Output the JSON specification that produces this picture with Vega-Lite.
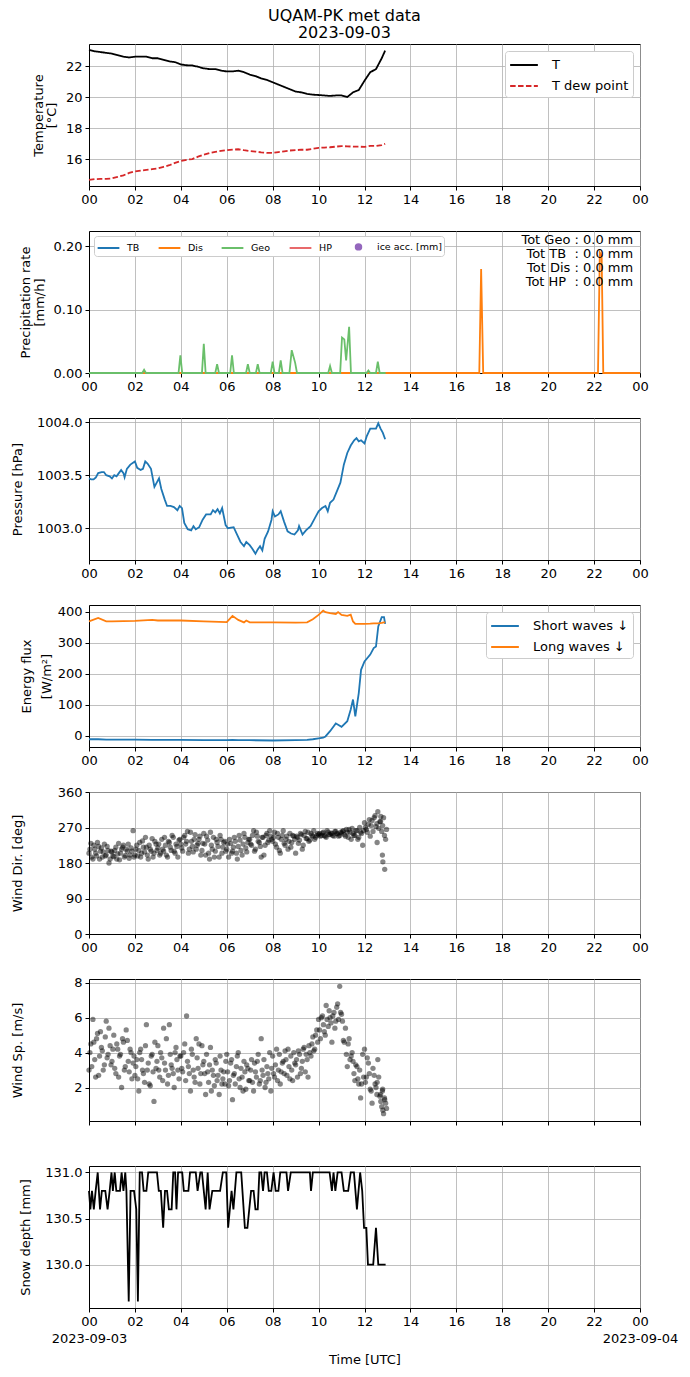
{
  "$schema": "https://vega.github.io/schema/vega-lite/v6.json",
  "padding": {"left": 10, "top": 7, "right": 5, "bottom": 5},
  "bounds": "flush",
  "spacing": 45,
  "resolve": {"scale": {"color": "independent", "strokeDash": "independent"}},
  "title": {"text": ["UQAM-PK met data", "2023-09-03"], "fontSize": 16, "fontWeight": "normal", "font": "DejaVu Sans", "anchor": "middle", "frame": "bounds", "lineHeight": 17, "offset": 3},
  "datasets": {
    "temp": [
      {"h":0,"T":23.04,"T dew point":14.65},{"h":0.25,"T":22.95,"T dew point":14.7},{"h":0.5,"T":22.9,"T dew point":14.72},{"h":0.75,"T":22.85,"T dew point":14.72},
      {"h":1,"T":22.8,"T dew point":14.75},{"h":1.25,"T":22.7,"T dew point":14.85},{"h":1.5,"T":22.6,"T dew point":14.95},{"h":1.75,"T":22.55,"T dew point":15.1},
      {"h":2,"T":22.6,"T dew point":15.2},{"h":2.25,"T":22.6,"T dew point":15.25},{"h":2.5,"T":22.6,"T dew point":15.3},{"h":2.75,"T":22.5,"T dew point":15.35},
      {"h":3,"T":22.5,"T dew point":15.4},{"h":3.25,"T":22.4,"T dew point":15.5},{"h":3.5,"T":22.3,"T dew point":15.6},{"h":3.75,"T":22.25,"T dew point":15.75},
      {"h":4,"T":22.1,"T dew point":15.87},{"h":4.25,"T":22.05,"T dew point":15.95},{"h":4.5,"T":22.04,"T dew point":16.0},{"h":4.75,"T":21.95,"T dew point":16.15},
      {"h":5,"T":21.85,"T dew point":16.28},{"h":5.25,"T":21.8,"T dew point":16.38},{"h":5.5,"T":21.8,"T dew point":16.46},{"h":5.75,"T":21.7,"T dew point":16.52},
      {"h":6,"T":21.65,"T dew point":16.57},{"h":6.25,"T":21.65,"T dew point":16.6},{"h":6.5,"T":21.7,"T dew point":16.63},{"h":6.75,"T":21.6,"T dew point":16.57},
      {"h":7,"T":21.45,"T dew point":16.52},{"h":7.25,"T":21.35,"T dew point":16.48},{"h":7.5,"T":21.2,"T dew point":16.43},{"h":7.75,"T":21.1,"T dew point":16.4},
      {"h":8,"T":20.95,"T dew point":16.39},{"h":8.25,"T":20.8,"T dew point":16.45},{"h":8.5,"T":20.65,"T dew point":16.5},{"h":8.75,"T":20.5,"T dew point":16.55},
      {"h":9,"T":20.35,"T dew point":16.57},{"h":9.25,"T":20.3,"T dew point":16.6},{"h":9.5,"T":20.2,"T dew point":16.6},{"h":9.75,"T":20.15,"T dew point":16.66},
      {"h":10,"T":20.13,"T dew point":16.72},{"h":10.25,"T":20.1,"T dew point":16.74},{"h":10.5,"T":20.07,"T dew point":16.76},{"h":10.75,"T":20.1,"T dew point":16.8},
      {"h":11,"T":20.1,"T dew point":16.83},{"h":11.25,"T":20.0,"T dew point":16.82},{"h":11.5,"T":20.3,"T dew point":16.8},{"h":11.75,"T":20.45,"T dew point":16.8},
      {"h":12,"T":21.05,"T dew point":16.78},{"h":12.25,"T":21.6,"T dew point":16.85},{"h":12.5,"T":21.8,"T dew point":16.85},{"h":12.75,"T":22.5,"T dew point":16.9},
      {"h":12.9,"T":23.0,"T dew point":16.98}
    ],
    "precip": [
      {"h":0,"k":"TB","v":0},{"h":12.92,"k":"TB","v":0},
      {"h":0,"k":"Dis","v":0},{"h":17.0,"k":"Dis","v":0},{"h":17.08,"k":"Dis","v":0.164},{"h":17.17,"k":"Dis","v":0},{"h":22.17,"k":"Dis","v":0},{"h":22.25,"k":"Dis","v":0.19},{"h":22.33,"k":"Dis","v":0.185},{"h":22.4,"k":"Dis","v":0},{"h":24,"k":"Dis","v":0},
      {"h":0,"k":"Geo","v":0},{"h":2.32,"k":"Geo","v":0},{"h":2.4,"k":"Geo","v":0.005},{"h":2.48,"k":"Geo","v":0},{"h":3.9,"k":"Geo","v":0},{"h":3.98,"k":"Geo","v":0.028},{"h":4.06,"k":"Geo","v":0},
      {"h":4.92,"k":"Geo","v":0},{"h":5.0,"k":"Geo","v":0.046},{"h":5.08,"k":"Geo","v":0},{"h":5.5,"k":"Geo","v":0},{"h":5.58,"k":"Geo","v":0.014},{"h":5.66,"k":"Geo","v":0},
      {"h":6.15,"k":"Geo","v":0},{"h":6.23,"k":"Geo","v":0.028},{"h":6.31,"k":"Geo","v":0},{"h":6.84,"k":"Geo","v":0},{"h":6.92,"k":"Geo","v":0.014},{"h":7.0,"k":"Geo","v":0},
      {"h":7.27,"k":"Geo","v":0},{"h":7.35,"k":"Geo","v":0.014},{"h":7.43,"k":"Geo","v":0},{"h":7.92,"k":"Geo","v":0},{"h":8.0,"k":"Geo","v":0.018},{"h":8.08,"k":"Geo","v":0},
      {"h":8.27,"k":"Geo","v":0},{"h":8.35,"k":"Geo","v":0.02},{"h":8.43,"k":"Geo","v":0},{"h":8.73,"k":"Geo","v":0},{"h":8.83,"k":"Geo","v":0.036},{"h":8.98,"k":"Geo","v":0.016},{"h":9.06,"k":"Geo","v":0},
      {"h":10.42,"k":"Geo","v":0},{"h":10.5,"k":"Geo","v":0.011},{"h":10.58,"k":"Geo","v":0},{"h":10.94,"k":"Geo","v":0},{"h":11.02,"k":"Geo","v":0.056},{"h":11.12,"k":"Geo","v":0.053},{"h":11.2,"k":"Geo","v":0.02},{"h":11.33,"k":"Geo","v":0.073},{"h":11.41,"k":"Geo","v":0},
      {"h":12.09,"k":"Geo","v":0},{"h":12.17,"k":"Geo","v":0.004},{"h":12.25,"k":"Geo","v":0},{"h":12.5,"k":"Geo","v":0},{"h":12.58,"k":"Geo","v":0.018},{"h":12.66,"k":"Geo","v":0},{"h":12.92,"k":"Geo","v":0}
    ],
    "pres": [
      {"h":0,"p":1003.47},{"h":0.1,"p":1003.46},{"h":0.2,"p":1003.46},{"h":0.3,"p":1003.48},{"h":0.4,"p":1003.52},{"h":0.55,"p":1003.53},{"h":0.65,"p":1003.53},{"h":0.75,"p":1003.5},
      {"h":0.9,"p":1003.49},{"h":1.0,"p":1003.47},{"h":1.1,"p":1003.5},{"h":1.2,"p":1003.49},{"h":1.3,"p":1003.52},{"h":1.4,"p":1003.55},{"h":1.5,"p":1003.52},{"h":1.55,"p":1003.48},
      {"h":1.65,"p":1003.56},{"h":1.8,"p":1003.6},{"h":2.0,"p":1003.63},{"h":2.1,"p":1003.57},{"h":2.25,"p":1003.55},{"h":2.35,"p":1003.56},{"h":2.45,"p":1003.63},{"h":2.55,"p":1003.61},
      {"h":2.7,"p":1003.56},{"h":2.85,"p":1003.39},{"h":2.95,"p":1003.43},{"h":3.05,"p":1003.47},{"h":3.15,"p":1003.37},{"h":3.3,"p":1003.27},{"h":3.4,"p":1003.21},{"h":3.55,"p":1003.21},
      {"h":3.7,"p":1003.2},{"h":3.85,"p":1003.17},{"h":3.95,"p":1003.21},{"h":4.05,"p":1003.19},{"h":4.15,"p":1003.05},{"h":4.3,"p":1002.99},{"h":4.45,"p":1002.98},{"h":4.55,"p":1003.02},
      {"h":4.65,"p":1002.99},{"h":4.8,"p":1003.01},{"h":4.95,"p":1003.08},{"h":5.1,"p":1003.13},{"h":5.3,"p":1003.13},{"h":5.4,"p":1003.17},{"h":5.5,"p":1003.15},{"h":5.6,"p":1003.18},
      {"h":5.7,"p":1003.14},{"h":5.8,"p":1003.19},{"h":5.95,"p":1003.03},{"h":6.05,"p":1003.0},{"h":6.3,"p":1003.01},{"h":6.45,"p":1002.94},{"h":6.6,"p":1002.87},{"h":6.75,"p":1002.83},
      {"h":6.85,"p":1002.87},{"h":7.0,"p":1002.84},{"h":7.1,"p":1002.81},{"h":7.25,"p":1002.76},{"h":7.35,"p":1002.8},{"h":7.45,"p":1002.83},{"h":7.55,"p":1002.79},{"h":7.65,"p":1002.9},
      {"h":7.8,"p":1002.97},{"h":7.95,"p":1003.08},{"h":8.0,"p":1003.16},{"h":8.1,"p":1003.11},{"h":8.25,"p":1003.13},{"h":8.35,"p":1003.16},{"h":8.5,"p":1003.06},{"h":8.65,"p":1002.97},
      {"h":8.8,"p":1002.95},{"h":8.95,"p":1002.94},{"h":9.1,"p":1002.98},{"h":9.15,"p":1003.02},{"h":9.3,"p":1002.94},{"h":9.45,"p":1002.98},{"h":9.65,"p":1003.02},{"h":9.85,"p":1003.1},
      {"h":10.0,"p":1003.16},{"h":10.15,"p":1003.19},{"h":10.3,"p":1003.21},{"h":10.4,"p":1003.16},{"h":10.5,"p":1003.24},{"h":10.65,"p":1003.27},{"h":10.8,"p":1003.35},{"h":10.95,"p":1003.43},
      {"h":11.1,"p":1003.6},{"h":11.25,"p":1003.71},{"h":11.4,"p":1003.78},{"h":11.55,"p":1003.83},{"h":11.65,"p":1003.85},{"h":11.75,"p":1003.82},{"h":11.85,"p":1003.83},{"h":12.0,"p":1003.8},
      {"h":12.1,"p":1003.87},{"h":12.25,"p":1003.94},{"h":12.4,"p":1003.94},{"h":12.5,"p":1003.94},{"h":12.6,"p":1003.99},{"h":12.7,"p":1003.94},{"h":12.8,"p":1003.9},{"h":12.9,"p":1003.84}
    ],
    "rad": [
      {"h":0,"Short waves ↓":-12,"Long waves ↓":368},{"h":0.4,"Short waves ↓":-12,"Long waves ↓":379},{"h":0.75,"Short waves ↓":-13,"Long waves ↓":368},{"h":1,"Short waves ↓":-13,"Long waves ↓":368},
      {"h":2,"Short waves ↓":-13,"Long waves ↓":370},{"h":2.75,"Short waves ↓":-14,"Long waves ↓":373},{"h":3,"Short waves ↓":-14,"Long waves ↓":371},{"h":4,"Short waves ↓":-14,"Long waves ↓":371},
      {"h":5,"Short waves ↓":-15,"Long waves ↓":368},{"h":6,"Short waves ↓":-15,"Long waves ↓":366},{"h":6.25,"Short waves ↓":-14,"Long waves ↓":386},{"h":6.5,"Short waves ↓":-15,"Long waves ↓":373},
      {"h":6.75,"Short waves ↓":-15,"Long waves ↓":365},{"h":6.85,"Short waves ↓":-15,"Long waves ↓":371},{"h":7,"Short waves ↓":-15,"Long waves ↓":365},{"h":8,"Short waves ↓":-16,"Long waves ↓":365},
      {"h":9,"Short waves ↓":-15,"Long waves ↓":364},{"h":9.5,"Short waves ↓":-14,"Long waves ↓":365},{"h":9.75,"Short waves ↓":-12,"Long waves ↓":375},{"h":10,"Short waves ↓":-9,"Long waves ↓":389},
      {"h":10.2,"Short waves ↓":-7,"Long waves ↓":403},{"h":10.3,"Short waves ↓":-3,"Long waves ↓":398},{"h":10.5,"Short waves ↓":14,"Long waves ↓":395},{"h":10.75,"Short waves ↓":39,"Long waves ↓":392},
      {"h":10.85,"Short waves ↓":35,"Long waves ↓":398},{"h":11,"Short waves ↓":28,"Long waves ↓":389},{"h":11.25,"Short waves ↓":46,"Long waves ↓":386},{"h":11.4,"Short waves ↓":84,"Long waves ↓":390},
      {"h":11.5,"Short waves ↓":116,"Long waves ↓":368},{"h":11.6,"Short waves ↓":62,"Long waves ↓":360},{"h":11.75,"Short waves ↓":137,"Long waves ↓":360},{"h":11.85,"Short waves ↓":212,"Long waves ↓":360},
      {"h":12,"Short waves ↓":239,"Long waves ↓":360},{"h":12.25,"Short waves ↓":261,"Long waves ↓":361},{"h":12.4,"Short waves ↓":282,"Long waves ↓":362},{"h":12.5,"Short waves ↓":287,"Long waves ↓":362},
      {"h":12.6,"Short waves ↓":352,"Long waves ↓":362},{"h":12.75,"Short waves ↓":382,"Long waves ↓":363},{"h":12.85,"Short waves ↓":382,"Long waves ↓":365},{"h":12.9,"Short waves ↓":360,"Long waves ↓":365}
    ],
    "wind": [
      {"h":0,"d":205,"s":3.0},{"h":0.08,"d":230,"s":4.5},{"h":0.17,"d":190,"s":5.9},{"h":0.25,"d":215,"s":3.6},{"h":0.33,"d":198,"s":4.8},{"h":0.42,"d":222,"s":2.7},{"h":0.5,"d":210,"s":5.2},{"h":0.58,"d":195,"s":4.1},{"h":0.67,"d":228,"s":3.3},{"h":0.75,"d":200,"s":5.8},{"h":0.83,"d":212,"s":3.9},{"h":0.92,"d":190,"s":4.4},
      {"h":1,"d":208,"s":3.5},{"h":1.08,"d":196,"s":5.0},{"h":1.17,"d":220,"s":2.8},{"h":1.25,"d":203,"s":4.2},{"h":1.33,"d":188,"s":3.8},{"h":1.42,"d":215,"s":2.0},{"h":1.5,"d":225,"s":4.6},{"h":1.58,"d":199,"s":3.2},{"h":1.67,"d":210,"s":4.7},{"h":1.75,"d":192,"s":2.9},{"h":1.83,"d":218,"s":4.0},{"h":1.92,"d":262,"s":3.4},
      {"h":2,"d":200,"s":2.7},{"h":2.08,"d":225,"s":3.6},{"h":2.17,"d":212,"s":1.8},{"h":2.25,"d":195,"s":4.2},{"h":2.33,"d":236,"s":3.0},{"h":2.42,"d":208,"s":2.3},{"h":2.5,"d":220,"s":5.6},{"h":2.58,"d":190,"s":3.4},{"h":2.67,"d":215,"s":2.1},{"h":2.75,"d":242,"s":3.9},{"h":2.83,"d":205,"s":1.2},{"h":2.92,"d":228,"s":3.1},
      {"h":3,"d":218,"s":4.4},{"h":3.08,"d":200,"s":2.6},{"h":3.17,"d":240,"s":3.7},{"h":3.25,"d":210,"s":5.4},{"h":3.33,"d":225,"s":3.0},{"h":3.42,"d":195,"s":2.2},{"h":3.5,"d":232,"s":5.6},{"h":3.58,"d":212,"s":3.3},{"h":3.67,"d":245,"s":2.8},{"h":3.75,"d":205,"s":4.0},{"h":3.83,"d":222,"s":3.6},{"h":3.92,"d":238,"s":2.5},
      {"h":4,"d":228,"s":3.8},{"h":4.08,"d":210,"s":2.9},{"h":4.17,"d":250,"s":4.5},{"h":4.25,"d":235,"s":6.1},{"h":4.33,"d":205,"s":3.2},{"h":4.42,"d":258,"s":1.8},{"h":4.5,"d":222,"s":3.9},{"h":4.58,"d":240,"s":2.6},{"h":4.67,"d":215,"s":4.8},{"h":4.75,"d":230,"s":3.1},{"h":4.83,"d":248,"s":2.2},{"h":4.92,"d":212,"s":4.4},
      {"h":5,"d":255,"s":3.5},{"h":5.08,"d":200,"s":1.6},{"h":5.17,"d":238,"s":2.9},{"h":5.25,"d":190,"s":3.3},{"h":5.33,"d":225,"s":1.8},{"h":5.42,"d":245,"s":2.7},{"h":5.5,"d":210,"s":3.6},{"h":5.58,"d":232,"s":2.4},{"h":5.67,"d":195,"s":1.6},{"h":5.75,"d":240,"s":3.0},{"h":5.83,"d":220,"s":2.5},{"h":5.92,"d":235,"s":2.2},
      {"h":6,"d":215,"s":3.9},{"h":6.08,"d":195,"s":2.1},{"h":6.17,"d":230,"s":3.4},{"h":6.25,"d":210,"s":1.3},{"h":6.33,"d":245,"s":2.8},{"h":6.42,"d":205,"s":3.2},{"h":6.5,"d":222,"s":4.0},{"h":6.58,"d":238,"s":2.0},{"h":6.67,"d":200,"s":2.6},{"h":6.75,"d":255,"s":3.5},{"h":6.83,"d":218,"s":1.9},{"h":6.92,"d":232,"s":3.1},
      {"h":7,"d":240,"s":2.4},{"h":7.08,"d":225,"s":3.6},{"h":7.17,"d":262,"s":1.8},{"h":7.25,"d":215,"s":2.9},{"h":7.33,"d":248,"s":3.5},{"h":7.42,"d":232,"s":2.2},{"h":7.5,"d":195,"s":4.8},{"h":7.58,"d":245,"s":2.7},{"h":7.67,"d":225,"s":2.0},{"h":7.75,"d":255,"s":3.2},{"h":7.83,"d":238,"s":2.5},{"h":7.92,"d":248,"s":1.8},
      {"h":8,"d":235,"s":3.8},{"h":8.08,"d":258,"s":2.6},{"h":8.17,"d":220,"s":4.2},{"h":8.25,"d":245,"s":3.0},{"h":8.33,"d":205,"s":2.2},{"h":8.42,"d":250,"s":3.4},{"h":8.5,"d":230,"s":2.8},{"h":8.58,"d":240,"s":3.6},{"h":8.67,"d":215,"s":4.2},{"h":8.75,"d":255,"s":2.5},{"h":8.83,"d":232,"s":3.0},{"h":8.92,"d":248,"s":4.0},
      {"h":9,"d":205,"s":3.3},{"h":9.08,"d":245,"s":2.6},{"h":9.17,"d":238,"s":3.9},{"h":9.25,"d":252,"s":3.1},{"h":9.33,"d":225,"s":4.2},{"h":9.42,"d":260,"s":2.9},{"h":9.5,"d":242,"s":3.6},{"h":9.58,"d":235,"s":4.4},{"h":9.67,"d":255,"s":3.8},{"h":9.75,"d":248,"s":4.9},{"h":9.83,"d":240,"s":4.2},{"h":9.92,"d":250,"s":5.3},
      {"h":10,"d":252,"s":5.9},{"h":10.08,"d":248,"s":4.8},{"h":10.17,"d":256,"s":6.1},{"h":10.25,"d":250,"s":5.2},{"h":10.33,"d":245,"s":6.7},{"h":10.42,"d":258,"s":5.5},{"h":10.5,"d":252,"s":6.0},{"h":10.58,"d":255,"s":4.6},{"h":10.67,"d":248,"s":6.3},{"h":10.75,"d":260,"s":5.8},{"h":10.83,"d":254,"s":6.8},{"h":10.92,"d":250,"s":7.8},
      {"h":11,"d":256,"s":6.2},{"h":11.08,"d":262,"s":4.7},{"h":11.17,"d":248,"s":5.4},{"h":11.25,"d":258,"s":3.2},{"h":11.33,"d":265,"s":4.8},{"h":11.42,"d":240,"s":3.8},{"h":11.5,"d":255,"s":3.5},{"h":11.58,"d":250,"s":2.4},{"h":11.67,"d":262,"s":3.2},{"h":11.75,"d":245,"s":2.2},{"h":11.83,"d":258,"s":1.4},{"h":11.92,"d":225,"s":3.9},
      {"h":12,"d":282,"s":4.2},{"h":12.08,"d":265,"s":2.6},{"h":12.17,"d":278,"s":3.4},{"h":12.25,"d":248,"s":1.9},{"h":12.33,"d":288,"s":1.1},{"h":12.42,"d":295,"s":2.7},{"h":12.5,"d":272,"s":2.0},{"h":12.58,"d":310,"s":3.6},{"h":12.67,"d":285,"s":1.5},{"h":12.75,"d":260,"s":0.9},{"h":12.83,"d":295,"s":0.5},{"h":12.92,"d":240,"s":1.1},
      {"h":12.55,"d":232,"s":2.3},{"h":12.7,"d":285,"s":1.6},{"h":12.78,"d":200,"s":1.8},{"h":12.8,"d":183,"s":0.7},{"h":12.88,"d":164,"s":1.3},
      {"h":0.04,"d":215,"s":4.0},{"h":0.12,"d":195,"s":3.2},{"h":0.21,"d":225,"s":4.6},{"h":0.29,"d":205,"s":2.6},{"h":0.37,"d":232,"s":5.1},{"h":0.46,"d":190,"s":3.8},{"h":0.54,"d":218,"s":4.3},{"h":0.62,"d":208,"s":3.0},{"h":0.71,"d":198,"s":4.9},{"h":0.79,"d":222,"s":3.7},{"h":0.87,"d":180,"s":5.4},{"h":0.96,"d":210,"s":3.3},
      {"h":1.04,"d":198,"s":4.2},{"h":1.12,"d":212,"s":3.1},{"h":1.21,"d":190,"s":4.5},{"h":1.29,"d":230,"s":2.6},{"h":1.37,"d":205,"s":3.9},{"h":1.46,"d":220,"s":4.8},{"h":1.54,"d":195,"s":3.0},{"h":1.62,"d":215,"s":5.3},{"h":1.71,"d":228,"s":3.5},{"h":1.79,"d":200,"s":4.2},{"h":1.87,"d":210,"s":2.5},{"h":1.96,"d":195,"s":3.8},
      {"h":2.04,"d":215,"s":3.2},{"h":2.12,"d":198,"s":2.5},{"h":2.21,"d":232,"s":4.0},{"h":2.29,"d":205,"s":3.6},{"h":2.37,"d":220,"s":2.8},{"h":2.46,"d":245,"s":4.4},{"h":2.54,"d":200,"s":3.0},{"h":2.62,"d":225,"s":2.2},{"h":2.71,"d":210,"s":3.8},{"h":2.79,"d":195,"s":2.9},{"h":2.87,"d":235,"s":4.6},{"h":2.96,"d":212,"s":3.5},
      {"h":3.04,"d":228,"s":3.0},{"h":3.12,"d":205,"s":4.0},{"h":3.21,"d":215,"s":2.4},{"h":3.29,"d":245,"s":3.4},{"h":3.37,"d":200,"s":4.8},{"h":3.46,"d":235,"s":2.7},{"h":3.54,"d":220,"s":3.9},{"h":3.62,"d":250,"s":3.1},{"h":3.71,"d":210,"s":2.0},{"h":3.79,"d":228,"s":4.3},{"h":3.87,"d":195,"s":3.0},{"h":3.96,"d":240,"s":3.8},
      {"h":4.04,"d":218,"s":3.1},{"h":4.12,"d":245,"s":4.0},{"h":4.21,"d":228,"s":2.4},{"h":4.29,"d":260,"s":3.5},{"h":4.37,"d":215,"s":2.8},{"h":4.46,"d":235,"s":4.2},{"h":4.54,"d":208,"s":3.0},{"h":4.62,"d":252,"s":2.3},{"h":4.71,"d":225,"s":3.7},{"h":4.79,"d":240,"s":4.5},{"h":4.87,"d":200,"s":2.8},{"h":4.96,"d":230,"s":3.3},
      {"h":5.04,"d":228,"s":2.8},{"h":5.12,"d":248,"s":3.9},{"h":5.21,"d":205,"s":2.3},{"h":5.29,"d":258,"s":4.3},{"h":5.37,"d":215,"s":3.0},{"h":5.46,"d":195,"s":2.1},{"h":5.54,"d":240,"s":3.4},{"h":5.62,"d":222,"s":2.7},{"h":5.71,"d":250,"s":3.8},{"h":5.79,"d":205,"s":2.2},{"h":5.87,"d":232,"s":2.9},{"h":5.96,"d":210,"s":3.5},
      {"h":6.04,"d":228,"s":2.9},{"h":6.12,"d":240,"s":2.4},{"h":6.21,"d":205,"s":3.6},{"h":6.29,"d":220,"s":2.7},{"h":6.37,"d":235,"s":2.2},{"h":6.46,"d":190,"s":3.8},{"h":6.54,"d":250,"s":2.5},{"h":6.62,"d":212,"s":3.1},{"h":6.71,"d":228,"s":1.8},{"h":6.79,"d":245,"s":2.9},{"h":6.87,"d":208,"s":3.3},{"h":6.96,"d":240,"s":2.4},
      {"h":7.04,"d":228,"s":3.0},{"h":7.12,"d":250,"s":2.3},{"h":7.21,"d":210,"s":3.4},{"h":7.29,"d":258,"s":2.6},{"h":7.37,"d":235,"s":3.9},{"h":7.46,"d":222,"s":2.4},{"h":7.54,"d":245,"s":3.0},{"h":7.62,"d":200,"s":3.6},{"h":7.71,"d":250,"s":2.3},{"h":7.79,"d":232,"s":2.8},{"h":7.87,"d":262,"s":4.0},{"h":7.96,"d":240,"s":3.1},
      {"h":8.04,"d":245,"s":2.8},{"h":8.12,"d":228,"s":3.3},{"h":8.21,"d":255,"s":2.4},{"h":8.29,"d":212,"s":3.9},{"h":8.37,"d":240,"s":2.9},{"h":8.46,"d":262,"s":3.5},{"h":8.54,"d":225,"s":4.1},{"h":8.62,"d":248,"s":2.7},{"h":8.71,"d":235,"s":3.2},{"h":8.79,"d":220,"s":3.8},{"h":8.87,"d":250,"s":2.4},{"h":8.96,"d":240,"s":3.4},
      {"h":9.04,"d":248,"s":3.6},{"h":9.12,"d":230,"s":4.1},{"h":9.21,"d":255,"s":2.8},{"h":9.29,"d":215,"s":3.5},{"h":9.37,"d":250,"s":4.3},{"h":9.46,"d":242,"s":3.9},{"h":9.54,"d":258,"s":2.6},{"h":9.62,"d":238,"s":4.0},{"h":9.71,"d":250,"s":4.5},{"h":9.79,"d":262,"s":4.1},{"h":9.87,"d":245,"s":5.0},{"h":9.96,"d":255,"s":4.6},
      {"h":10.04,"d":255,"s":5.3},{"h":10.12,"d":250,"s":6.0},{"h":10.21,"d":258,"s":5.6},{"h":10.29,"d":248,"s":5.0},{"h":10.37,"d":262,"s":5.9},{"h":10.46,"d":252,"s":6.4},{"h":10.54,"d":256,"s":5.7},{"h":10.62,"d":250,"s":6.1},{"h":10.71,"d":260,"s":5.4},{"h":10.79,"d":255,"s":6.6},{"h":10.87,"d":248,"s":5.9},{"h":10.96,"d":258,"s":6.3},
      {"h":11.04,"d":260,"s":5.8},{"h":11.12,"d":252,"s":4.6},{"h":11.21,"d":265,"s":3.9},{"h":11.29,"d":245,"s":4.5},{"h":11.37,"d":258,"s":3.6},{"h":11.46,"d":268,"s":4.0},{"h":11.54,"d":250,"s":2.8},{"h":11.62,"d":262,"s":3.3},{"h":11.71,"d":240,"s":2.5},{"h":11.79,"d":270,"s":3.0},{"h":11.87,"d":255,"s":2.2},{"h":11.96,"d":262,"s":2.6},
      {"h":12.04,"d":270,"s":2.3},{"h":12.12,"d":258,"s":3.7},{"h":12.21,"d":290,"s":2.8},{"h":12.29,"d":275,"s":1.8},{"h":12.37,"d":260,"s":3.1},{"h":12.46,"d":300,"s":2.2},{"h":12.54,"d":280,"s":1.6},{"h":12.62,"d":268,"s":2.6},{"h":12.71,"d":298,"s":1.2},{"h":12.79,"d":275,"s":1.9},{"h":12.87,"d":250,"s":1.4},{"h":12.96,"d":265,"s":0.8}
    ],
    "snow": [
      {"h":0,"s":130.8},{"h":0.06,"s":130.6},{"h":0.13,"s":130.8},{"h":0.21,"s":130.6},{"h":0.29,"s":130.8},{"h":0.38,"s":131.0},{"h":0.48,"s":130.6},{"h":0.56,"s":130.8},{"h":0.71,"s":130.8},{"h":0.81,"s":130.6},
      {"h":0.9,"s":130.8},{"h":0.98,"s":131.0},{"h":1.04,"s":130.8},{"h":1.12,"s":131.0},{"h":1.19,"s":130.8},{"h":1.35,"s":130.8},{"h":1.42,"s":131.0},{"h":1.5,"s":130.8},{"h":1.58,"s":131.0},{"h":1.63,"s":130.8},
      {"h":1.73,"s":129.6},{"h":1.81,"s":130.8},{"h":1.96,"s":130.8},{"h":2.06,"s":130.6},{"h":2.13,"s":129.6},{"h":2.21,"s":131.0},{"h":2.31,"s":131.0},{"h":2.38,"s":130.8},{"h":2.5,"s":130.8},{"h":2.58,"s":131.0},
      {"h":2.96,"s":131.0},{"h":3.04,"s":130.8},{"h":3.13,"s":130.8},{"h":3.23,"s":130.4},{"h":3.31,"s":130.8},{"h":3.4,"s":130.8},{"h":3.48,"s":130.6},{"h":3.6,"s":130.6},{"h":3.67,"s":131.0},{"h":3.75,"s":131.0},
      {"h":3.81,"s":130.6},{"h":3.88,"s":131.0},{"h":4.06,"s":131.0},{"h":4.13,"s":130.8},{"h":4.33,"s":130.8},{"h":4.4,"s":131.0},{"h":4.65,"s":131.0},{"h":4.73,"s":130.8},{"h":4.85,"s":131.0},{"h":4.92,"s":131.0},
      {"h":5.08,"s":130.6},{"h":5.17,"s":131.0},{"h":5.25,"s":130.6},{"h":5.37,"s":130.8},{"h":5.71,"s":130.8},{"h":5.83,"s":131.0},{"h":5.98,"s":131.0},{"h":6.06,"s":130.4},{"h":6.21,"s":130.8},{"h":6.29,"s":130.6},
      {"h":6.42,"s":131.0},{"h":6.63,"s":131.0},{"h":6.79,"s":130.4},{"h":6.9,"s":130.4},{"h":7.06,"s":130.8},{"h":7.17,"s":130.8},{"h":7.25,"s":130.6},{"h":7.35,"s":130.6},{"h":7.42,"s":131.0},{"h":7.5,"s":131.0},
      {"h":7.58,"s":130.8},{"h":7.65,"s":131.0},{"h":7.75,"s":131.0},{"h":7.83,"s":130.8},{"h":7.94,"s":130.8},{"h":8.04,"s":131.0},{"h":8.13,"s":130.8},{"h":8.25,"s":130.8},{"h":8.33,"s":131.0},{"h":8.6,"s":131.0},
      {"h":8.67,"s":130.8},{"h":8.79,"s":131.0},{"h":9.62,"s":131.0},{"h":9.67,"s":130.8},{"h":9.75,"s":131.0},{"h":10.48,"s":131.0},{"h":10.58,"s":130.8},{"h":10.65,"s":131.0},{"h":10.73,"s":130.8},{"h":10.83,"s":131.0},
      {"h":11.0,"s":131.0},{"h":11.1,"s":130.8},{"h":11.29,"s":130.8},{"h":11.4,"s":131.0},{"h":11.54,"s":131.0},{"h":11.67,"s":130.6},{"h":11.81,"s":131.0},{"h":11.9,"s":130.8},{"h":11.98,"s":130.4},{"h":12.08,"s":130.4},
      {"h":12.15,"s":130.0},{"h":12.38,"s":130.0},{"h":12.5,"s":130.4},{"h":12.6,"s":130.0},{"h":12.92,"s":130.0}
    ]
  },
  "vconcat": [
    {
      "width": 551, "height": 142,
      "data": {"name": "temp"},
      "transform": [{"fold": ["T", "T dew point"], "as": ["k", "v"]}],
      "mark": {"type": "line", "strokeWidth": 1.8},
      "encoding": {
        "x": {"field": "h", "type": "quantitative", "scale": {"domain": [0, 24], "nice": false}, "axis": {"values": [0,2,4,6,8,10,12,14,16,18,20,22,24], "labelExpr": "(datum.value%24<10?'0':'')+(datum.value%24)", "title": null}},
        "y": {"field": "v", "type": "quantitative", "scale": {"domain": [14.26, 23.42], "nice": false, "zero": false}, "axis": {"values": [16,18,20,22], "title": ["Temperature", "[°C]"], "titleX": -50.5, "titleLineHeight": 13}},
        "color": {"field": "k", "type": "nominal", "scale": {"domain": ["T", "T dew point"], "range": ["#000000", "#d62728"]}, "legend": {"title": null, "orient": "top-right", "offset": 7}},
        "strokeDash": {"field": "k", "type": "nominal", "scale": {"domain": ["T", "T dew point"], "range": [[1, 0], [5.5, 2.4]]}, "legend": {"title": null, "orient": "top-right", "offset": 7}}
      }
    },
    {
      "width": 551, "height": 142,
      "layer": [
        {
          "data": {"name": "precip"},
          "mark": {"type": "line", "strokeWidth": 1.8},
          "encoding": {
            "x": {"field": "h", "type": "quantitative", "scale": {"domain": [0, 24], "nice": false}, "axis": {"values": [0,2,4,6,8,10,12,14,16,18,20,22,24], "labelExpr": "(datum.value%24<10?'0':'')+(datum.value%24)", "title": null}},
            "y": {"field": "v", "type": "quantitative", "scale": {"domain": [0, 0.224], "nice": false}, "axis": {"values": [0, 0.05, 0.1, 0.15, 0.2], "format": ".2f", "title": ["Precipitation rate", "[mm/h]"], "titleX": -64, "titleLineHeight": 14}},
            "color": {"field": "k", "type": "nominal", "scale": {"domain": ["TB", "Dis", "Geo", "HP", "ice acc. [mm]"], "range": ["#1f77b4", "#ff7f0e", "#6abf6a", "#e8696b", "#9467bd"]},
              "legend": {"title": null, "orient": "top-left", "offset": 5, "direction": "horizontal", "columns": 5, "labelFontSize": 9.5, "symbolSize": 225, "columnPadding": 14, "padding": 2, "symbolOffset": 4, "labelOffset": 10,
                "encode": {"symbols": {"update": {"shape": {"signal": "datum.value === 'ice acc. [mm]' ? 'circle' : 'M-1.45,0H1.45'"}, "size": {"signal": "datum.value === 'ice acc. [mm]' ? 30 : 225"}, "fill": {"signal": "datum.value === 'ice acc. [mm]' ? '#9467bd' : 'transparent'"}}}}}}
          }
        },
        {
          "data": {"values": [{}]},
          "mark": {"type": "text", "align": "right", "baseline": "top", "fontSize": 13, "font": "DejaVu Sans", "lineHeight": 14, "text": ["Tot Geo : 0.0 mm", "Tot TB\u00a0\u00a0: 0.0 mm", "Tot Dis : 0.0 mm", "Tot HP\u00a0\u00a0: 0.0 mm"]},
          "encoding": {"x": {"datum": 23.7}, "y": {"datum": 0.219}}
        }
      ]
    },
    {
      "width": 551, "height": 142,
      "data": {"name": "pres"},
      "mark": {"type": "line", "strokeWidth": 1.8, "color": "#1f77b4"},
      "encoding": {
        "x": {"field": "h", "type": "quantitative", "scale": {"domain": [0, 24], "nice": false}, "axis": {"values": [0,2,4,6,8,10,12,14,16,18,20,22,24], "labelExpr": "(datum.value%24<10?'0':'')+(datum.value%24)", "title": null}},
        "y": {"field": "p", "type": "quantitative", "scale": {"domain": [1002.7, 1004.04], "nice": false, "zero": false}, "axis": {"values": [1003, 1003.5, 1004], "format": ".1f", "title": "Pressure [hPa]", "titleX": -72}}
      }
    },
    {
      "width": 551, "height": 142,
      "data": {"name": "rad"},
      "transform": [{"fold": ["Short waves ↓", "Long waves ↓"], "as": ["k", "v"]}],
      "mark": {"type": "line", "strokeWidth": 1.8},
      "encoding": {
        "x": {"field": "h", "type": "quantitative", "scale": {"domain": [0, 24], "nice": false}, "axis": {"values": [0,2,4,6,8,10,12,14,16,18,20,22,24], "labelExpr": "(datum.value%24<10?'0':'')+(datum.value%24)", "title": null}},
        "y": {"field": "v", "type": "quantitative", "scale": {"domain": [-37, 421], "nice": false, "zero": false}, "axis": {"values": [0, 100, 200, 300, 400], "title": ["Energy flux", "[W/m²]"], "titleX": -63, "titleLineHeight": 20}},
        "color": {"field": "k", "type": "nominal", "scale": {"domain": ["Short waves ↓", "Long waves ↓"], "range": ["#1f77b4", "#ff7f0e"]}, "legend": {"title": null, "orient": "top-right", "offset": 7}}
      }
    },
    {
      "width": 551, "height": 142,
      "data": {"name": "wind"},
      "mark": {"type": "circle", "size": 28, "color": "#000000", "opacity": 0.48},
      "encoding": {
        "x": {"field": "h", "type": "quantitative", "scale": {"domain": [0, 24], "nice": false}, "axis": {"values": [0,2,4,6,8,10,12,14,16,18,20,22,24], "labelExpr": "(datum.value%24<10?'0':'')+(datum.value%24)", "title": null}},
        "y": {"field": "d", "type": "quantitative", "scale": {"domain": [0, 360], "nice": false}, "axis": {"values": [0, 90, 180, 270, 360], "title": "Wind Dir. [deg]", "titleX": -72}}
      }
    },
    {
      "width": 551, "height": 142,
      "data": {"name": "wind"},
      "mark": {"type": "circle", "size": 28, "color": "#000000", "opacity": 0.48},
      "encoding": {
        "x": {"field": "h", "type": "quantitative", "scale": {"domain": [0, 24], "nice": false}, "axis": {"values": [0,2,4,6,8,10,12,14,16,18,20,22,24], "labels": false, "title": null}},
        "y": {"field": "s", "type": "quantitative", "scale": {"domain": [0.08, 8.22], "nice": false, "zero": false}, "axis": {"values": [2, 4, 6, 8], "title": "Wind Sp. [m/s]", "titleX": -72}}
      }
    },
    {
      "width": 551, "height": 142,
      "data": {"name": "snow"},
      "mark": {"type": "line", "strokeWidth": 1.8, "color": "#000000"},
      "encoding": {
        "x": {"field": "h", "type": "quantitative", "scale": {"domain": [0, 24], "nice": false}, "axis": {"values": [0,2,4,6,8,10,12,14,16,18,20,22,24], "labelExpr": "datum.value == 0 ? ['00', '2023-09-03'] : datum.value == 24 ? ['00', '2023-09-04'] : (datum.value<10?'0':'')+datum.value", "title": "Time [UTC]", "titlePadding": 8}},
        "y": {"field": "s", "type": "quantitative", "scale": {"domain": [129.53, 131.07], "nice": false, "zero": false}, "axis": {"values": [130, 130.5, 131], "format": ".1f", "title": "Snow depth [mm]", "titleX": -64}}
      }
    }
  ],
  "config": {
    "font": "DejaVu Sans",
    "view": {"stroke": "#000000", "strokeWidth": 1},
    "axis": {"labelFont": "DejaVu Sans", "labelFontSize": 13, "labelColor": "#000000", "titleFont": "DejaVu Sans", "titleFontSize": 13, "titleFontWeight": "normal", "titleColor": "#000000", "tickColor": "#000000", "tickSize": 4, "domainColor": "#000000", "gridColor": "#b0b0b0", "gridWidth": 0.8, "labelPadding": 3, "titlePadding": 6, "titleLineHeight": 16, "labelOverlap": false, "labelFlush": false, "labelLineHeight": 17},
    "axisLeft": {"titleBaseline": "middle"},
    "legend": {"labelFont": "DejaVu Sans", "labelFontSize": 13, "labelColor": "#000000", "fillColor": "#ffffff", "strokeColor": "#cccccc", "cornerRadius": 3, "padding": 4, "symbolOffset": 5, "symbolType": "M-1.6,0H1.6", "symbolSize": 300, "symbolStrokeWidth": 2, "labelOffset": 18, "rowPadding": 4}
  }
}
